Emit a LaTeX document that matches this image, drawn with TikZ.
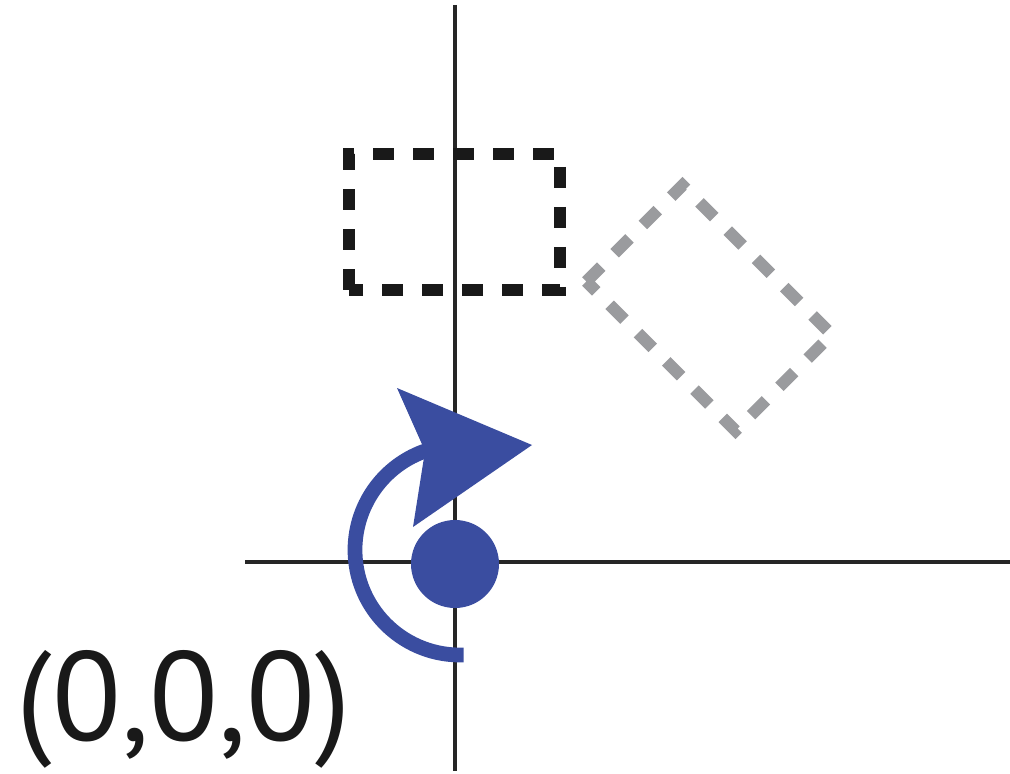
\documentclass[tikz,border=0pt]{standalone}
\usepackage{fontspec}
\setmainfont{PT Sans}
\usetikzlibrary{arrows.meta,positioning,calc}
\definecolor{Turn}{HTML}{3A4DA0}
\definecolor{Ghost}{HTML}{9A9B9E}

\begin{document}
\begin{tikzpicture}[
  axis/.style={line width=1.4pt,draw=black!85},
  box/.style={line width=3.4pt,dash pattern=on 2.1mm off 1.9mm},
  dot/.style={circle,fill=Turn,inner sep=0pt,minimum size=8.8mm},
  turn/.style={line width=4.2pt,draw=Turn},
  label/.style={inner sep=0pt,font=\fontsize{36}{40}\selectfont,text=black!90}
]
\useasboundingbox (0,0) rectangle (10.10,7.73);
% axes
\coordinate (top) at (4.55,7.68);
\coordinate (bottom) at (4.55,0.02);
\coordinate (left) at (2.45,2.11);
\coordinate (right) at (10.10,2.11);
\draw[axis] (top) -- (bottom);
\draw[axis] (left) -- (right);
% box before and after the turn
\draw[box,draw=black!90] (3.49,4.83) rectangle (5.60,6.19);
\begin{scope}[shift={(7.09,4.65)},rotate=-45]
  \draw[box,draw=Ghost] (-1.055,-0.68) rectangle (1.055,0.68);
\end{scope}
% rotation about the origin
\node[dot] (origin) at (4.55,2.09) {};
\draw[turn] (4.60,2.23) ++(-88:1.05) arc[start angle=-88,end angle=-252,radius=1.05];
\coordinate (tip) at (5.32,3.28);
\coordinate (wingA) at (3.97,3.85);
\coordinate (notch) at (4.25,3.22);
\coordinate (wingB) at (4.13,2.46);
\fill[Turn] (tip) -- (wingA) -- (notch) -- (wingB) -- cycle;
\node[label] (coords) at (1.84,0.64) {(0,0,0)};
\end{tikzpicture}
\end{document}
